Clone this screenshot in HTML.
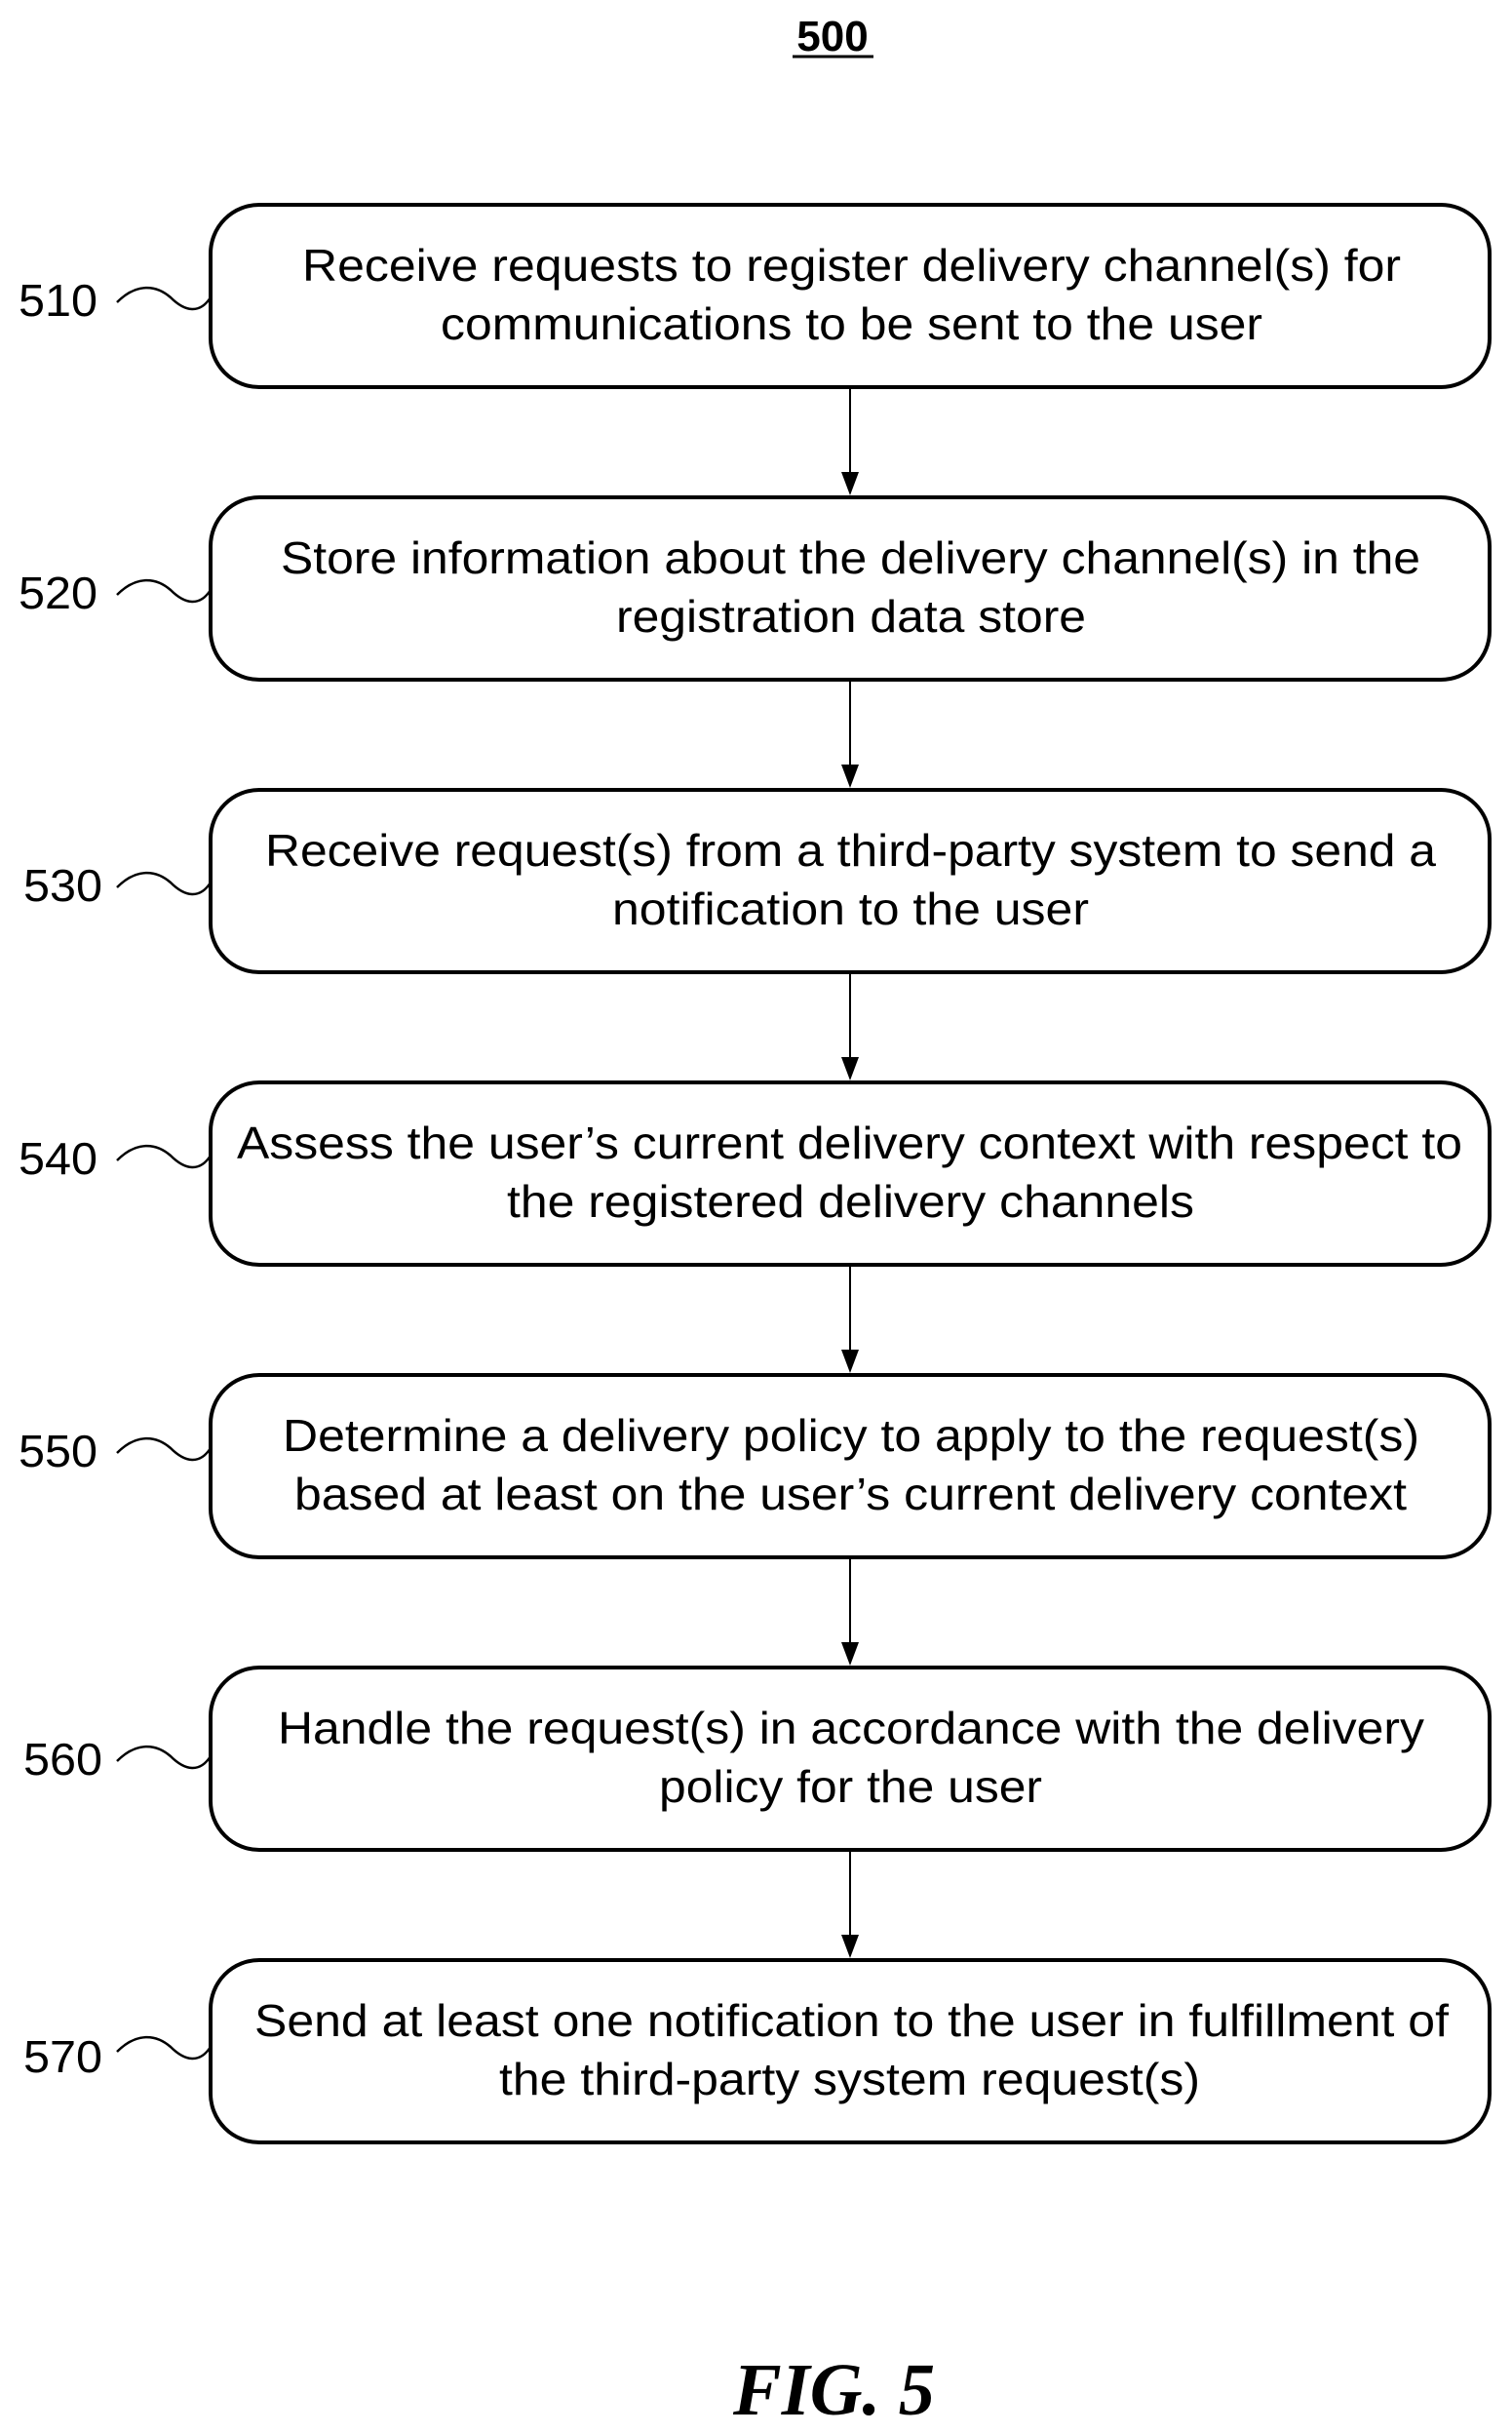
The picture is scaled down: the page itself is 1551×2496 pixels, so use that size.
<!DOCTYPE html>
<html><head><meta charset="utf-8"><style>html,body{margin:0;padding:0;background:#fff}svg{display:block}</style></head>
<body>
<svg width="1551" height="2496" viewBox="0 0 1551 2496" xmlns="http://www.w3.org/2000/svg" font-family="Liberation Sans, Arial, sans-serif">
<text x="854" y="52" font-size="44" font-weight="bold" text-anchor="middle">500</text>
<line x1="813" y1="58" x2="896" y2="58" stroke="#000" stroke-width="3"/>
<g fill="none" stroke="#000" stroke-width="4">
<rect x="216" y="210" width="1312" height="187" rx="50"/>
<rect x="216" y="510" width="1312" height="187" rx="50"/>
<rect x="216" y="810" width="1312" height="187" rx="50"/>
<rect x="216" y="1110" width="1312" height="187" rx="50"/>
<rect x="216" y="1410" width="1312" height="187" rx="50"/>
<rect x="216" y="1710" width="1312" height="187" rx="50"/>
<rect x="216" y="2010" width="1312" height="187" rx="50"/>
</g>
<g stroke="#000" stroke-width="2">
<line x1="872" y1="399" x2="872" y2="490"/>
<line x1="872" y1="699" x2="872" y2="790"/>
<line x1="872" y1="999" x2="872" y2="1090"/>
<line x1="872" y1="1299" x2="872" y2="1390"/>
<line x1="872" y1="1599" x2="872" y2="1690"/>
<line x1="872" y1="1899" x2="872" y2="1990"/>
</g>
<g fill="#000">
<polygon points="863,484 881,484 872,508"/>
<polygon points="863,784 881,784 872,808"/>
<polygon points="863,1084 881,1084 872,1108"/>
<polygon points="863,1384 881,1384 872,1408"/>
<polygon points="863,1684 881,1684 872,1708"/>
<polygon points="863,1984 881,1984 872,2008"/>
</g>
<g fill="none" stroke="#000" stroke-width="2.5">
<path d="M120,310 C140,290 160,292 175,305 C190,320 205,322 216,305"/>
<path d="M120,610 C140,590 160,592 175,605 C190,620 205,622 216,605"/>
<path d="M120,910 C140,890 160,892 175,905 C190,920 205,922 216,905"/>
<path d="M120,1190 C140,1170 160,1172 175,1185 C190,1200 205,1202 216,1185"/>
<path d="M120,1490 C140,1470 160,1472 175,1485 C190,1500 205,1502 216,1485"/>
<path d="M120,1806 C140,1786 160,1788 175,1801 C190,1816 205,1818 216,1801"/>
<path d="M120,2104 C140,2084 160,2086 175,2099 C190,2114 205,2116 216,2099"/>
</g>
<g font-size="46" fill="#000">
<text x="19" y="324" textLength="81" lengthAdjust="spacingAndGlyphs">510</text>
<text x="19" y="624" textLength="81" lengthAdjust="spacingAndGlyphs">520</text>
<text x="24" y="924" textLength="81" lengthAdjust="spacingAndGlyphs">530</text>
<text x="19" y="1204" textLength="81" lengthAdjust="spacingAndGlyphs">540</text>
<text x="19" y="1504" textLength="81" lengthAdjust="spacingAndGlyphs">550</text>
<text x="24" y="1820" textLength="81" lengthAdjust="spacingAndGlyphs">560</text>
<text x="24" y="2125" textLength="81" lengthAdjust="spacingAndGlyphs">570</text>
</g>
<g font-size="46" fill="#000">
<text x="310" y="288" textLength="1127" lengthAdjust="spacingAndGlyphs">Receive requests to register delivery channel(s) for</text>
<text x="452" y="348" textLength="843" lengthAdjust="spacingAndGlyphs">communications to be sent to the user</text>
<text x="288" y="588" textLength="1169" lengthAdjust="spacingAndGlyphs">Store information about the delivery channel(s) in the</text>
<text x="632" y="648" textLength="482" lengthAdjust="spacingAndGlyphs">registration data store</text>
<text x="272" y="888" textLength="1201" lengthAdjust="spacingAndGlyphs">Receive request(s) from a third-party system to send a</text>
<text x="628" y="948" textLength="489" lengthAdjust="spacingAndGlyphs">notification to the user</text>
<text x="243" y="1188" textLength="1257" lengthAdjust="spacingAndGlyphs">Assess the user’s current delivery context with respect to</text>
<text x="520" y="1248" textLength="705" lengthAdjust="spacingAndGlyphs">the registered delivery channels</text>
<text x="290" y="1488" textLength="1166" lengthAdjust="spacingAndGlyphs">Determine a delivery policy to apply to the request(s)</text>
<text x="302" y="1548" textLength="1141" lengthAdjust="spacingAndGlyphs">based at least on the user’s current delivery context</text>
<text x="285" y="1788" textLength="1176" lengthAdjust="spacingAndGlyphs">Handle the request(s) in accordance with the delivery</text>
<text x="676" y="1848" textLength="393" lengthAdjust="spacingAndGlyphs">policy for the user</text>
<text x="261" y="2088" textLength="1225" lengthAdjust="spacingAndGlyphs">Send at least one notification to the user in fulfillment of</text>
<text x="512" y="2148" textLength="719" lengthAdjust="spacingAndGlyphs">the third-party system request(s)</text>
</g>
<text x="752" y="2476" font-family="Liberation Serif, serif" font-style="italic" font-weight="bold" font-size="76" textLength="207" lengthAdjust="spacingAndGlyphs">FIG. 5</text>
</svg>
</body></html>
